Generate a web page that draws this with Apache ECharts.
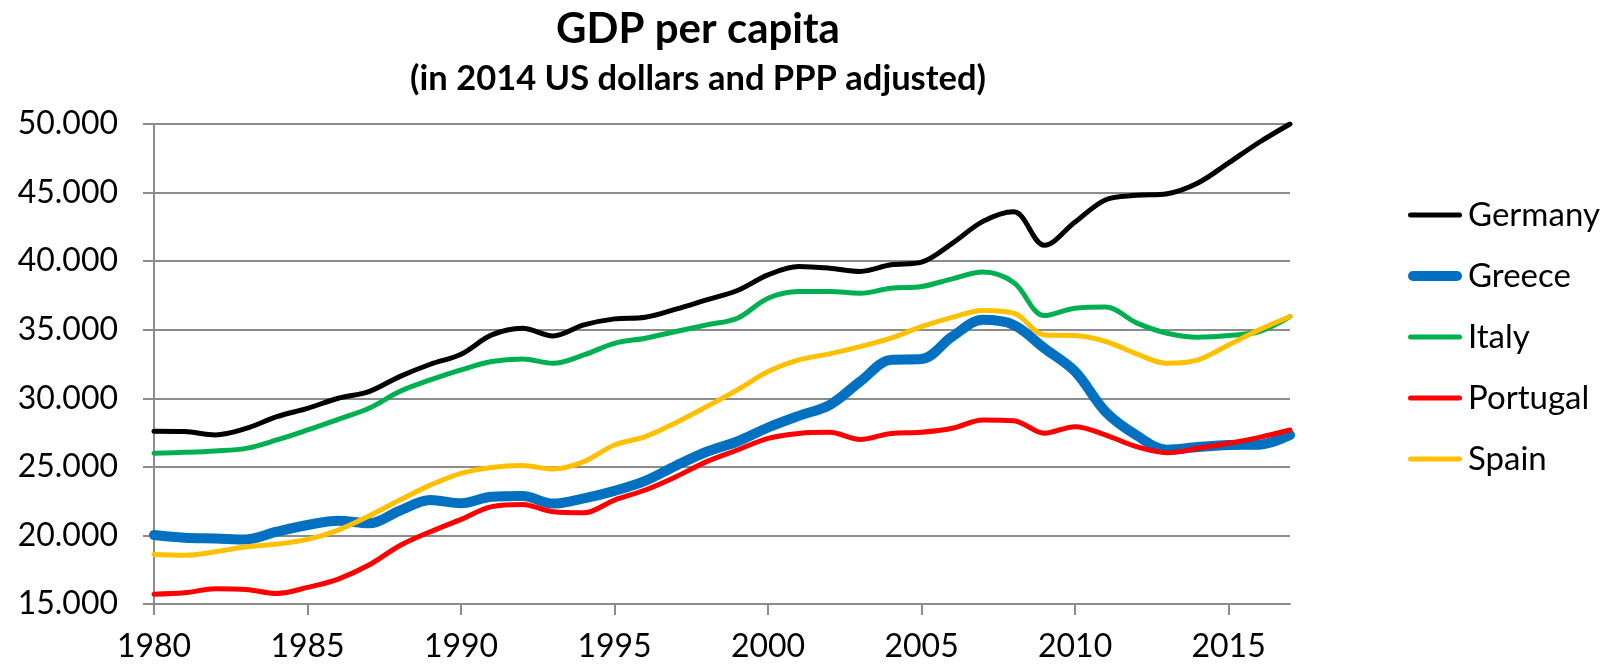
<!DOCTYPE html>
<html>
<head>
<meta charset="utf-8">
<title>GDP per capita</title>
<script src="https://cdn.jsdelivr.net/npm/echarts@6/dist/echarts.min.js"></script>
<style>
  html, body { margin: 0; padding: 0; background: #fff; }
  #chart { width: 1604px; height: 670px; }
</style>
</head>
<body>
<div id="chart"></div>
<script>
const years = [];
for (let y = 1980; y <= 2017; y++) years.push(String(y));

const germany = [27600, 27570, 27330, 27800, 28660, 29270, 30000, 30490, 31580, 32480,
  33210, 34620, 35110, 34550, 35350, 35790, 35910, 36500, 37180, 37860,
  39000, 39610, 39490, 39250, 39730, 39930, 41300, 42900, 43600, 41150,
  42850, 44480, 44800, 44920, 45700, 47160, 48670, 50000];
const greece = [20030, 19830, 19780, 19710, 20270, 20760, 21070, 20880, 21800, 22580,
  22340, 22820, 22870, 22320, 22700, 23250, 23980, 25080, 26100, 26850,
  27870, 28720, 29500, 31220, 32800, 32860, 34500, 35720, 35350, 33650,
  31950, 29000, 27300, 26250, 26450, 26600, 26620, 27320];
const italy = [26000, 26060, 26160, 26350, 26960, 27690, 28470, 29270, 30490, 31340,
  32070, 32680, 32870, 32550, 33160, 34010, 34380, 34870, 35350, 35840,
  37300, 37790, 37790, 37660, 38030, 38150, 38710, 39200, 38440, 36030,
  36570, 36650, 35500, 34740, 34450, 34570, 34870, 35960];
const portugal = [15720, 15820, 16110, 16060, 15770, 16210, 16820, 17840, 19250, 20270,
  21170, 22100, 22260, 21730, 21650, 22580, 23310, 24280, 25380, 26230,
  27080, 27440, 27520, 27000, 27440, 27520, 27810, 28420, 28370, 27450,
  27930, 27320, 26470, 26030, 26350, 26720, 27150, 27690];
const spain = [18610, 18560, 18810, 19170, 19370, 19710, 20390, 21410, 22580, 23670,
  24530, 24960, 25090, 24840, 25380, 26590, 27200, 28220, 29390, 30610,
  31950, 32800, 33240, 33770, 34380, 35230, 35900, 36400, 36210, 34620,
  34570, 34140, 33240, 32550, 32800, 33890, 34990, 35960];

const names = ['Germany', 'Greece', 'Italy', 'Portugal', 'Spain'];
const colors = ['#000000', '#0070C0', '#00B050', '#FF0000', '#FFC000'];
const widths = [5, 10, 5, 5, 5];
const values = [germany, greece, italy, portugal, spain];

const thin = 'path://M2.5,0H51.5A2.5,2.5,0,0,1,51.5,5H2.5A2.5,2.5,0,0,1,2.5,0Z';
const thick = 'path://M5,0H49A5,5,0,0,1,49,10H5A5,5,0,0,1,5,0Z';

const font = 'Lato, Carlito, "Noto Sans", sans-serif';
const gray = '#8c8c8c';

function dots(v) {
  return String(v).replace(/\B(?=(\d{3})+(?!\d))/g, '.');
}

const chart = echarts.init(document.getElementById('chart'));
chart.setOption({
  animation: false,
  textStyle: { fontFamily: font },
  title: {
    text: 'GDP per capita',
    subtext: '(in 2014 US dollars and PPP adjusted)',
    left: 693,
    top: 3,
    textAlign: 'center',
    itemGap: 11,
    textStyle: { fontFamily: font, fontWeight: 'bold', fontSize: 42, color: '#000' },
    subtextStyle: { fontFamily: font, fontWeight: 'bold', fontSize: 34.5, color: '#000' }
  },
  legend: {
    orient: 'vertical',
    left: 1403,
    top: 192,
    itemWidth: 54,
    itemHeight: 10,
    itemGap: 25,
    textStyle: { fontFamily: font, fontSize: 33, color: '#000', lineHeight: 36, padding: [0, 0, 0, 1] },
    data: names.map((n, i) => ({ name: n, icon: i === 1 ? thick : thin }))
  },
  grid: { left: 154, right: 314, top: 124, bottom: 66, containLabel: false },
  xAxis: {
    type: 'category',
    data: years,
    boundaryGap: false,
    axisLine: { lineStyle: { color: gray, width: 2 } },
    axisTick: { interval: 4, length: 11, lineStyle: { color: gray, width: 2 } },
    axisLabel: { interval: 4, margin: 27, fontSize: 32, color: '#000', fontFamily: font },
    splitLine: { show: false }
  },
  yAxis: {
    type: 'value',
    min: 15000,
    max: 50000,
    interval: 5000,
    axisLine: { show: true, lineStyle: { color: gray, width: 2 } },
    axisTick: { show: true, length: 11, lineStyle: { color: gray, width: 2 } },
    axisLabel: { margin: 36, fontSize: 32, color: '#000', fontFamily: font, formatter: dots },
    splitLine: { lineStyle: { color: gray, width: 2 } }
  },
  series: names.map((n, i) => ({
    name: n,
    type: 'line',
    data: values[i],
    smooth: 0.35,
    showSymbol: false,
    symbol: 'none',
    color: colors[i],
    lineStyle: { color: colors[i], width: widths[i], cap: 'round', join: 'round' }
  }))
});
</script>
</body>
</html>
